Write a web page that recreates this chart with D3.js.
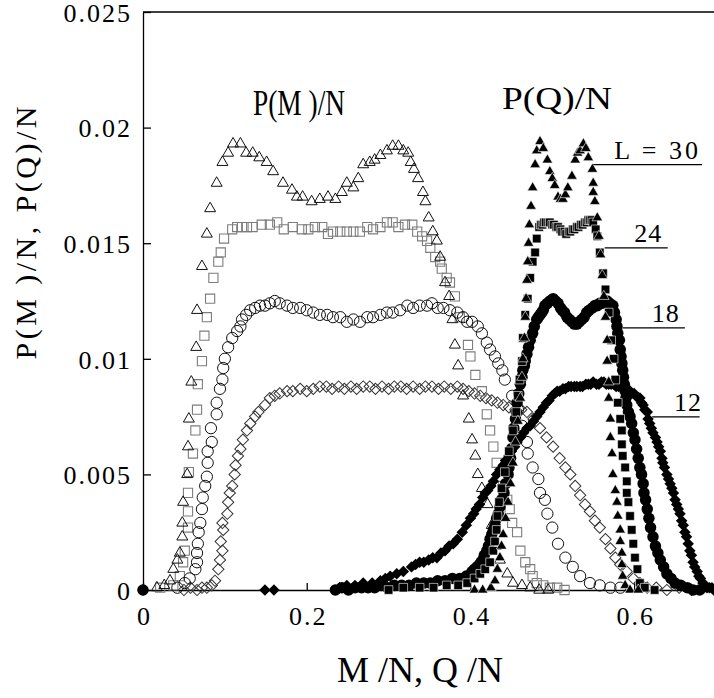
<!DOCTYPE html>
<html>
<head>
  <script type="text/javascript" src="https://d3js.org/d3.v7.min.js"></script>
</head>
<body>
<style type="text/css">
  html,
  body {
    overflow: hidden;
    margin: 0px;
    background: #ffffff;
  }
  svg {
    display: block;
  }
  text {
    font-family: "Liberation Serif", "Times New Roman", serif;
    fill: #000000;
  }
</style>

<script>
"use strict";

/******************************************************* Data *******************************************************/

// Axis ticks and their labels
const X_TICKS = [0, 0.2, 0.4, 0.6];
const X_TICK_LABELS = ["0", "0.2", "0.4", "0.6"];
const Y_TICKS = [0, 0.005, 0.01, 0.015, 0.02, 0.025];
const Y_TICK_LABELS = ["0", "0.005", "0.01", "0.015", "0.02", "0.025"];

// Size labels (L) drawn next to the P(Q)/N curves, with the height of their leader line
const L_LABELS = ["L = 30", "24", "18", "12"];
const L_LINE_Y = [0.0184, 0.0148, 0.01134, 0.00749];
const L_LINE_X0 = [0.550, 0.564, 0.586, 0.622];
const L_LINE_X1 = [0.683, 0.641, 0.662, 0.680];

// P(M)/N, open symbols: [M/N, P(M)/N]
const PM_L30 = [[0.017,0.0001],[0.026,0.0002],[0.033,0.0004],[0.037,0.0009],[0.042,0.0013],[0.045,0.0016],[0.048,0.0023],[0.048,0.0029],
  [0.049,0.0038],[0.054,0.0050],[0.055,0.0062],[0.056,0.0074],[0.059,0.0090],[0.065,0.0105],[0.066,0.0121],[0.072,0.0140],[0.078,0.0154],
  [0.082,0.0165],[0.090,0.0176],[0.097,0.0185],[0.104,0.0189],[0.110,0.0193],[0.119,0.0193],[0.126,0.0189],[0.134,0.0189],[0.142,0.0187],
  [0.151,0.0185],[0.159,0.0181],[0.171,0.0176],[0.182,0.0173],[0.188,0.0170],[0.195,0.0170],[0.206,0.0168],[0.216,0.0169],[0.226,0.0170],
  [0.235,0.0169],[0.243,0.0172],[0.249,0.0176],[0.257,0.0174],[0.263,0.0178],[0.269,0.0184],[0.277,0.0185],[0.283,0.0186],[0.290,0.0188],
  [0.298,0.0190],[0.305,0.0192],[0.312,0.0192],[0.318,0.0190],[0.324,0.0189],[0.327,0.0185],[0.331,0.0182],[0.336,0.0178],[0.342,0.0172],
  [0.345,0.0168],[0.349,0.0161],[0.354,0.0155],[0.359,0.0151],[0.363,0.0144],[0.369,0.0133],[0.374,0.0127],[0.378,0.0117],[0.381,0.0106],
  [0.385,0.0097],[0.391,0.0084],[0.398,0.0074],[0.402,0.0065],[0.406,0.0058],[0.409,0.0050],[0.414,0.0044],[0.421,0.0037],[0.426,0.0028],
  [0.431,0.0019],[0.436,0.0013],[0.445,0.0007],[0.452,0.0003],[0.463,0.0002],[0.473,0.0001],[0.484,0.0000],[0.495,0.0000]];

const PM_L24 = [[0.021,0.0001],[0.037,0.0002],[0.045,0.0006],[0.049,0.0012],[0.051,0.0017],[0.055,0.0027],[0.055,0.0034],[0.055,0.0042],
  [0.056,0.0051],[0.061,0.0059],[0.064,0.0069],[0.066,0.0078],[0.067,0.0089],[0.072,0.0099],[0.075,0.0110],[0.078,0.0118],[0.082,0.0126],
  [0.086,0.0135],[0.092,0.0142],[0.095,0.0146],[0.099,0.0152],[0.109,0.0156],[0.115,0.0157],[0.121,0.0157],[0.127,0.0157],[0.134,0.0157],
  [0.145,0.0158],[0.155,0.0158],[0.164,0.0159],[0.172,0.0156],[0.183,0.0157],[0.194,0.0156],[0.202,0.0156],[0.210,0.0157],[0.219,0.0157],
  [0.226,0.0154],[0.232,0.0155],[0.241,0.0155],[0.249,0.0155],[0.257,0.0155],[0.265,0.0155],[0.274,0.0157],[0.281,0.0156],[0.290,0.0157],
  [0.298,0.0159],[0.305,0.0159],[0.312,0.0157],[0.320,0.0158],[0.329,0.0158],[0.335,0.0155],[0.341,0.0153],[0.347,0.0151],[0.351,0.0148],
  [0.357,0.0144],[0.363,0.0142],[0.365,0.0139],[0.371,0.0135],[0.375,0.0133],[0.381,0.0127],[0.387,0.0118],[0.397,0.0106],[0.400,0.0101],
  [0.406,0.0093],[0.414,0.0086],[0.420,0.0076],[0.424,0.0069],[0.428,0.0062],[0.432,0.0055],[0.440,0.0045],[0.445,0.0039],[0.448,0.0035],
  [0.451,0.0029],[0.457,0.0025],[0.461,0.0017],[0.467,0.0012],[0.473,0.0009],[0.476,0.0006],[0.481,0.0003],[0.489,0.0002],[0.497,0.0001],
  [0.506,0.0001],[0.515,0.0000]];

const PM_L18 = [[0.042,0.0001],[0.051,0.0003],[0.057,0.0005],[0.064,0.0009],[0.066,0.0012],[0.066,0.0016],[0.067,0.0020],[0.068,0.0025],
  [0.070,0.0029],[0.072,0.0035],[0.073,0.0040],[0.076,0.0045],[0.078,0.0049],[0.079,0.0055],[0.079,0.0060],[0.084,0.0064],[0.083,0.0070],
  [0.090,0.0076],[0.090,0.0081],[0.094,0.0087],[0.097,0.0091],[0.098,0.0096],[0.100,0.0100],[0.104,0.0105],[0.109,0.0109],[0.115,0.0112],
  [0.119,0.0114],[0.121,0.0117],[0.126,0.0119],[0.131,0.0121],[0.137,0.0122],[0.143,0.0123],[0.149,0.0123],[0.155,0.0124],[0.161,0.0125],
  [0.167,0.0124],[0.176,0.0123],[0.183,0.0122],[0.192,0.0122],[0.200,0.0121],[0.208,0.0120],[0.216,0.0119],[0.225,0.0119],[0.232,0.0118],
  [0.241,0.0118],[0.249,0.0116],[0.257,0.0117],[0.265,0.0116],[0.274,0.0118],[0.281,0.0118],[0.290,0.0119],[0.298,0.0120],[0.305,0.0120],
  [0.314,0.0121],[0.323,0.0123],[0.330,0.0122],[0.338,0.0123],[0.347,0.0123],[0.353,0.0124],[0.360,0.0122],[0.367,0.0122],[0.375,0.0121],
  [0.384,0.0120],[0.391,0.0118],[0.396,0.0116],[0.402,0.0116],[0.409,0.0114],[0.414,0.0111],[0.420,0.0107],[0.424,0.0104],[0.430,0.0101],
  [0.434,0.0098],[0.439,0.0095],[0.442,0.0091],[0.451,0.0084],[0.458,0.0078],[0.463,0.0071],[0.469,0.0064],[0.470,0.0059],[0.476,0.0053],
  [0.483,0.0048],[0.485,0.0042],[0.491,0.0039],[0.494,0.0033],[0.500,0.0027],[0.507,0.0020],[0.516,0.0014],[0.525,0.0010],[0.534,0.0006],
  [0.546,0.0003],[0.558,0.0002],[0.571,0.0001],[0.583,0.0001]];

const PM_L12 = [[0.050,0.0000],[0.058,0.0001],[0.066,0.0000],[0.072,0.0001],[0.078,0.0001],[0.084,0.0002],[0.088,0.0004],[0.092,0.0009],
  [0.094,0.0013],[0.097,0.0017],[0.095,0.0021],[0.098,0.0026],[0.097,0.0029],[0.103,0.0033],[0.104,0.0038],[0.106,0.0042],[0.109,0.0045],
  [0.112,0.0050],[0.113,0.0054],[0.116,0.0058],[0.119,0.0061],[0.122,0.0065],[0.127,0.0069],[0.131,0.0072],[0.137,0.0075],[0.141,0.0077],
  [0.149,0.0080],[0.155,0.0083],[0.161,0.0084],[0.167,0.0085],[0.176,0.0086],[0.183,0.0086],[0.192,0.0087],[0.200,0.0086],[0.208,0.0087],
  [0.216,0.0088],[0.224,0.0088],[0.231,0.0087],[0.239,0.0088],[0.246,0.0087],[0.254,0.0088],[0.261,0.0087],[0.269,0.0088],[0.277,0.0088],
  [0.284,0.0087],[0.292,0.0088],[0.300,0.0087],[0.307,0.0088],[0.315,0.0088],[0.322,0.0087],[0.330,0.0088],[0.338,0.0087],[0.345,0.0088],
  [0.353,0.0088],[0.361,0.0087],[0.368,0.0088],[0.376,0.0087],[0.384,0.0088],[0.391,0.0087],[0.398,0.0086],[0.405,0.0085],[0.412,0.0084],
  [0.419,0.0083],[0.426,0.0082],[0.433,0.0081],[0.440,0.0080],[0.447,0.0079],[0.455,0.0078],[0.462,0.0078],[0.469,0.0077],[0.477,0.0074],
  [0.485,0.0070],[0.493,0.0066],[0.501,0.0062],[0.509,0.0057],[0.516,0.0053],[0.522,0.0050],[0.528,0.0045],[0.534,0.0041],[0.540,0.0037],
  [0.546,0.0034],[0.552,0.0030],[0.558,0.0027],[0.565,0.0022],[0.571,0.0018],[0.577,0.0014],[0.583,0.0011],[0.591,0.0008],[0.599,0.0005],
  [0.607,0.0003],[0.616,0.0001],[0.627,0.0001],[0.640,0.0000],[0.655,0.0001],[0.670,0.0000],[0.685,0.0001],[0.698,0.0000]];

// P(Q)/N, filled symbols: [Q/N, P(Q)/N]
const PQ_L30 = [[0.405,0.0000],[0.415,0.0000],[0.425,0.0001],[0.430,0.0004],[0.433,0.0009],[0.436,0.0014],[0.438,0.0019],[0.440,0.0024],
  [0.443,0.0031],[0.446,0.0038],[0.449,0.0046],[0.452,0.0055],[0.455,0.0064],[0.458,0.0073],[0.461,0.0083],[0.463,0.0092],[0.464,0.0100],
  [0.466,0.0109],[0.467,0.0118],[0.468,0.0126],[0.469,0.0134],[0.470,0.0142],[0.471,0.0150],[0.472,0.0158],[0.474,0.0166],[0.476,0.0174],
  [0.479,0.0184],[0.481,0.0190],[0.485,0.0194],[0.489,0.0191],[0.494,0.0186],[0.497,0.0181],[0.500,0.0178],[0.503,0.0175],[0.507,0.0170],
  [0.510,0.0169],[0.513,0.0169],[0.516,0.0171],[0.519,0.0174],[0.524,0.0179],[0.528,0.0186],[0.531,0.0189],[0.534,0.0190],[0.538,0.0193],
  [0.541,0.0191],[0.544,0.0187],[0.549,0.0182],[0.550,0.0176],[0.550,0.0172],[0.552,0.0168],[0.555,0.0161],[0.557,0.0153],[0.559,0.0145],
  [0.561,0.0136],[0.563,0.0127],[0.565,0.0118],[0.567,0.0108],[0.567,0.0099],[0.569,0.0090],[0.569,0.0083],[0.571,0.0074],[0.571,0.0066],
  [0.573,0.0059],[0.574,0.0050],[0.577,0.0043],[0.579,0.0038],[0.580,0.0032],[0.583,0.0026],[0.583,0.0021],[0.585,0.0016],[0.585,0.0011],
  [0.586,0.0006],[0.589,0.0002],[0.595,0.0000],[0.605,0.0000]];

const PQ_L24 = [[0.300,0.0000],[0.318,0.0001],[0.338,0.0001],[0.355,0.0001],[0.371,0.0002],[0.385,0.0002],[0.396,0.0003],[0.405,0.0005],
  [0.412,0.0007],[0.418,0.0009],[0.424,0.0012],[0.428,0.0017],[0.430,0.0021],[0.432,0.0026],[0.433,0.0032],[0.435,0.0038],[0.438,0.0044],
  [0.442,0.0051],[0.447,0.0060],[0.452,0.0069],[0.456,0.0077],[0.458,0.0084],[0.460,0.0091],[0.463,0.0099],[0.464,0.0109],[0.467,0.0119],
  [0.470,0.0126],[0.473,0.0135],[0.476,0.0142],[0.479,0.0146],[0.481,0.0152],[0.484,0.0157],[0.486,0.0158],[0.488,0.0158],[0.490,0.0159],
  [0.492,0.0159],[0.495,0.0159],[0.497,0.0159],[0.500,0.0158],[0.502,0.0158],[0.505,0.0157],[0.507,0.0157],[0.510,0.0156],[0.512,0.0155],
  [0.515,0.0155],[0.517,0.0154],[0.520,0.0155],[0.522,0.0155],[0.525,0.0156],[0.527,0.0156],[0.530,0.0157],[0.532,0.0157],[0.535,0.0158],
  [0.537,0.0158],[0.540,0.0159],[0.542,0.0159],[0.544,0.0160],[0.546,0.0160],[0.548,0.0160],[0.550,0.0159],[0.553,0.0156],[0.555,0.0153],
  [0.558,0.0146],[0.562,0.0137],[0.565,0.0130],[0.569,0.0120],[0.572,0.0108],[0.575,0.0100],[0.577,0.0091],[0.580,0.0081],[0.583,0.0074],
  [0.585,0.0069],[0.585,0.0063],[0.586,0.0058],[0.589,0.0053],[0.591,0.0047],[0.591,0.0042],[0.593,0.0038],[0.595,0.0032],[0.597,0.0026],
  [0.599,0.0020],[0.601,0.0014],[0.604,0.0009],[0.607,0.0003],[0.613,0.0001],[0.625,0.0000]];

const PQ_L18 = [[0.000,0.0000],[0.235,0.0000],[0.243,0.0001],[0.251,0.0000],[0.259,0.0001],[0.267,0.0001],[0.275,0.0001],[0.283,0.0001],
  [0.291,0.0002],[0.299,0.0001],[0.307,0.0002],[0.316,0.0002],[0.325,0.0002],[0.334,0.0003],[0.343,0.0003],[0.351,0.0003],[0.360,0.0004],
  [0.369,0.0004],[0.378,0.0005],[0.387,0.0005],[0.395,0.0006],[0.402,0.0008],[0.405,0.0009],[0.408,0.0010],[0.411,0.0011],[0.413,0.0012],
  [0.415,0.0013],[0.417,0.0015],[0.420,0.0017],[0.422,0.0019],[0.424,0.0022],[0.426,0.0024],[0.428,0.0026],[0.430,0.0028],[0.432,0.0031],
  [0.434,0.0033],[0.436,0.0036],[0.438,0.0039],[0.441,0.0042],[0.443,0.0046],[0.446,0.0050],[0.447,0.0053],[0.449,0.0057],[0.450,0.0061],
  [0.452,0.0066],[0.453,0.0070],[0.455,0.0074],[0.456,0.0077],[0.457,0.0081],[0.459,0.0085],[0.461,0.0089],[0.463,0.0092],[0.464,0.0095],
  [0.466,0.0097],[0.467,0.0099],[0.469,0.0102],[0.471,0.0105],[0.473,0.0108],[0.476,0.0111],[0.478,0.0114],[0.481,0.0117],[0.483,0.0118],
  [0.485,0.0119],[0.487,0.0120],[0.489,0.0121],[0.491,0.0123],[0.494,0.0124],[0.497,0.0125],[0.501,0.0126],[0.504,0.0125],[0.507,0.0124],
  [0.510,0.0122],[0.512,0.0121],[0.515,0.0120],[0.518,0.0118],[0.521,0.0117],[0.524,0.0116],[0.527,0.0115],[0.530,0.0115],[0.533,0.0116],
  [0.536,0.0117],[0.539,0.0118],[0.542,0.0120],[0.545,0.0121],[0.549,0.0122],[0.552,0.0123],[0.555,0.0123],[0.558,0.0124],[0.561,0.0124],
  [0.564,0.0125],[0.567,0.0125],[0.570,0.0124],[0.574,0.0123],[0.576,0.0120],[0.578,0.0117],[0.579,0.0114],[0.580,0.0111],[0.582,0.0108],
  [0.583,0.0104],[0.584,0.0101],[0.585,0.0098],[0.586,0.0095],[0.587,0.0092],[0.588,0.0089],[0.589,0.0086],[0.590,0.0083],[0.591,0.0080],
  [0.593,0.0077],[0.595,0.0075],[0.597,0.0072],[0.599,0.0068],[0.601,0.0065],[0.603,0.0061],[0.605,0.0057],[0.607,0.0053],[0.609,0.0050],
  [0.611,0.0046],[0.612,0.0042],[0.614,0.0039],[0.616,0.0035],[0.618,0.0031],[0.620,0.0027],[0.623,0.0023],[0.626,0.0019],[0.629,0.0016],
  [0.632,0.0013],[0.636,0.0010],[0.640,0.0007],[0.645,0.0005],[0.650,0.0003],[0.657,0.0002],[0.665,0.0001],[0.672,0.0000],[0.680,0.0000]];

const PQ_L12 = [[0.000,0.0000],[0.149,0.0000],[0.160,0.0000],[0.240,0.0001],[0.249,0.0002],[0.259,0.0002],[0.269,0.0003],[0.280,0.0003],
  [0.290,0.0004],[0.296,0.0005],[0.302,0.0006],[0.310,0.0007],[0.318,0.0008],[0.328,0.0010],[0.333,0.0011],[0.338,0.0012],[0.343,0.0012],
  [0.349,0.0013],[0.354,0.0014],[0.359,0.0014],[0.364,0.0016],[0.369,0.0017],[0.374,0.0019],[0.379,0.0020],[0.384,0.0022],[0.390,0.0025],
  [0.395,0.0028],[0.400,0.0031],[0.404,0.0033],[0.407,0.0035],[0.411,0.0037],[0.415,0.0040],[0.418,0.0042],[0.421,0.0043],[0.425,0.0045],
  [0.428,0.0047],[0.432,0.0050],[0.436,0.0052],[0.440,0.0054],[0.443,0.0056],[0.447,0.0058],[0.450,0.0060],[0.454,0.0062],[0.457,0.0064],
  [0.461,0.0066],[0.465,0.0068],[0.469,0.0070],[0.473,0.0071],[0.477,0.0073],[0.481,0.0075],[0.485,0.0077],[0.489,0.0079],[0.493,0.0081],
  [0.496,0.0082],[0.500,0.0084],[0.503,0.0085],[0.506,0.0086],[0.509,0.0086],[0.513,0.0087],[0.516,0.0087],[0.520,0.0088],[0.523,0.0088],
  [0.527,0.0088],[0.530,0.0088],[0.534,0.0088],[0.537,0.0088],[0.541,0.0089],[0.544,0.0089],[0.547,0.0089],[0.550,0.0090],[0.554,0.0089],
  [0.557,0.0089],[0.560,0.0090],[0.563,0.0090],[0.566,0.0089],[0.569,0.0089],[0.572,0.0089],[0.575,0.0089],[0.578,0.0088],[0.581,0.0088],
  [0.584,0.0088],[0.586,0.0088],[0.589,0.0087],[0.592,0.0087],[0.595,0.0086],[0.597,0.0085],[0.600,0.0085],[0.602,0.0084],[0.605,0.0083],
  [0.607,0.0083],[0.609,0.0081],[0.611,0.0080],[0.613,0.0078],[0.616,0.0077],[0.617,0.0074],[0.619,0.0072],[0.621,0.0070],[0.623,0.0068],
  [0.626,0.0066],[0.628,0.0064],[0.630,0.0062],[0.632,0.0060],[0.634,0.0057],[0.635,0.0055],[0.637,0.0053],[0.640,0.0050],[0.642,0.0048],
  [0.644,0.0046],[0.646,0.0044],[0.648,0.0042],[0.650,0.0039],[0.652,0.0037],[0.654,0.0035],[0.656,0.0033],[0.658,0.0030],[0.660,0.0028],
  [0.662,0.0025],[0.664,0.0023],[0.666,0.0020],[0.668,0.0017],[0.670,0.0015],[0.672,0.0012],[0.674,0.0010],[0.677,0.0008],[0.679,0.0006],
  [0.681,0.0005],[0.684,0.0003],[0.687,0.0002],[0.689,0.0001],[0.692,0.0001],[0.695,0.0001],[0.698,0.0000]];

/******************************************************* Layout *******************************************************/

const WIDTH = 714;
const HEIGHT = 698;
const PLOT_LEFT = 143; // x pixel of M/N = 0
const PLOT_RIGHT = 716; // x pixel of M/N = 0.7 (just past the picture edge)
const PLOT_TOP = 12; // y pixel of 0.025
const PLOT_BOTTOM = 590; // y pixel of 0
const FONT = "'Liberation Serif', 'Times New Roman', serif";

const X_SCALE = d3.scaleLinear().domain([0, 0.7]).range([PLOT_LEFT, PLOT_RIGHT]);
const Y_SCALE = d3.scaleLinear().domain([0, 0.025]).range([PLOT_BOTTOM, PLOT_TOP]);

// Symbol style of every series (open = P(M)/N, filled = P(Q)/N)
const SERIES = [
  { data: PM_L12, shape: d3.symbolSquare, size: 64, rotate: 45, fill: "none", stroke: "#333333", width: 1 },
  { data: PM_L24, shape: d3.symbolSquare, size: 84, rotate: 0, fill: "none", stroke: "#7d7d7d", width: 1.1 },
  { data: PM_L18, shape: d3.symbolCircle, size: 100, rotate: 0, fill: "none", stroke: "#111111", width: 1 },
  { data: PM_L30, shape: d3.symbolTriangle, size: 52, rotate: 0, fill: "none", stroke: "#111111", width: 1 },
  { data: PQ_L12, shape: d3.symbolSquare, size: 66, rotate: 45, fill: "#000000", stroke: "none", width: 0 },
  { data: PQ_L18, shape: d3.symbolCircle, size: 104, rotate: 0, fill: "#000000", stroke: "none", width: 0 },
  { data: PQ_L24, shape: d3.symbolSquare, size: 74, rotate: 0, fill: "#000000", stroke: "#ffffff", width: 0.6 },
  { data: PQ_L30, shape: d3.symbolTriangle, size: 48, rotate: 0, fill: "#000000", stroke: "#ffffff", width: 0.6 }
];

/******************************************************* Draw *******************************************************/

const SVG = d3.select("body")
  .append("svg")
  .attr("width", WIDTH)
  .attr("height", HEIGHT);

// Frame: top edge and right edge
SVG.append("path")
  .attr("d", "M" + X_SCALE(0) + "," + Y_SCALE(0.025) + "H" + X_SCALE(0.7) + "V" + Y_SCALE(0))
  .attr("fill", "none")
  .attr("stroke", "#000")
  .attr("stroke-width", 1.3);

// Y axis, ticks pointing inward
const Y_AXIS = SVG.append("g")
  .attr("transform", "translate(" + PLOT_LEFT + ",0)")
  .call(d3.axisLeft(Y_SCALE)
    .tickValues(Y_TICKS)
    .tickFormat(function(d, i) { return Y_TICK_LABELS[i]; })
    .tickSizeInner(-8)
    .tickSizeOuter(0)
    .tickPadding(13));

// X axis along P = 0, ticks pointing inward
const X_AXIS = SVG.append("g")
  .attr("transform", "translate(0," + PLOT_BOTTOM + ")")
  .call(d3.axisBottom(X_SCALE)
    .tickValues(X_TICKS)
    .tickFormat(function(d, i) { return X_TICK_LABELS[i]; })
    .tickSizeInner(-7)
    .tickSizeOuter(0)
    .tickPadding(17));

[X_AXIS, Y_AXIS].forEach(function(g) {
  g.attr("font-family", null).attr("font-size", null);
  g.selectAll(".domain").attr("stroke", "#000").attr("stroke-width", 1.3);
  g.selectAll(".tick line").attr("stroke", "#000").attr("stroke-width", 1.3);
  g.selectAll(".tick text")
    .attr("fill", "#000")
    .style("font-family", FONT)
    .style("font-size", "26px")
    .style("letter-spacing", "2px");
});
Y_AXIS.selectAll(".tick text").attr("dx", "2px").attr("dy", "0.36em");
X_AXIS.selectAll(".tick text").attr("dx", "1px");

// Data symbols
SERIES.forEach(function(s) {
  const symbolPath = d3.symbol().type(s.shape).size(s.size)();
  SVG.append("g")
    .selectAll("path")
    .data(s.data)
    .enter()
    .append("path")
    .attr("d", symbolPath)
    .attr("transform", function(d) {
      return "translate(" + X_SCALE(d[0]) + "," + Y_SCALE(d[1]) + ")" + (s.rotate ? " rotate(" + s.rotate + ")" : "");
    })
    .attr("fill", s.fill)
    .attr("stroke", s.stroke)
    .attr("stroke-width", s.width);
});

// Leader lines and L labels
const LABELS = SVG.append("g");
L_LABELS.forEach(function(label, i) {
  LABELS.append("line")
    .attr("x1", X_SCALE(L_LINE_X0[i]))
    .attr("x2", X_SCALE(L_LINE_X1[i]))
    .attr("y1", Y_SCALE(L_LINE_Y[i]))
    .attr("y2", Y_SCALE(L_LINE_Y[i]))
    .attr("stroke", "#000")
    .attr("stroke-width", 1.3);
  LABELS.append("text")
    .attr("x", (X_SCALE(L_LINE_X1[i]) + X_SCALE(L_LINE_X0[i])) / 2 + (i === 0 ? 10 : 12))
    .attr("y", Y_SCALE(L_LINE_Y[i]) - 6)
    .attr("text-anchor", "middle")
    .style("font-family", FONT)
    .style("font-size", "26px")
    .style("letter-spacing", i === 0 ? "3px" : "1px")
    .text(label);
});

// Curve-family titles inside the plot
SVG.append("text")
  .attr("x", X_SCALE(0.1344))
  .attr("y", Y_SCALE(0.02056))
  .attr("textLength", 92)
  .attr("lengthAdjust", "spacingAndGlyphs")
  .style("font-family", FONT)
  .style("font-size", "35px")
  .text("P(M )/N");

SVG.append("text")
  .attr("x", X_SCALE(0.4386))
  .attr("y", Y_SCALE(0.02095) + 3)
  .attr("textLength", 110)
  .attr("lengthAdjust", "spacingAndGlyphs")
  .style("font-family", FONT)
  .style("font-size", "32px")
  .text("P(Q)/N");

// Axis titles
SVG.append("text")
  .attr("x", 420)
  .attr("y", 682)
  .attr("text-anchor", "middle")
  .style("font-family", FONT)
  .style("font-size", "36px")
  .text("M /N, Q /N");

SVG.append("text")
  .attr("transform", "translate(36,233) rotate(-90)")
  .attr("text-anchor", "middle")
  .attr("textLength", 253)
  .attr("lengthAdjust", "spacing")
  .style("font-family", FONT)
  .style("font-size", "30px")
  .text("P(M )/N, P(Q)/N");
</script>
</body>
</html>
